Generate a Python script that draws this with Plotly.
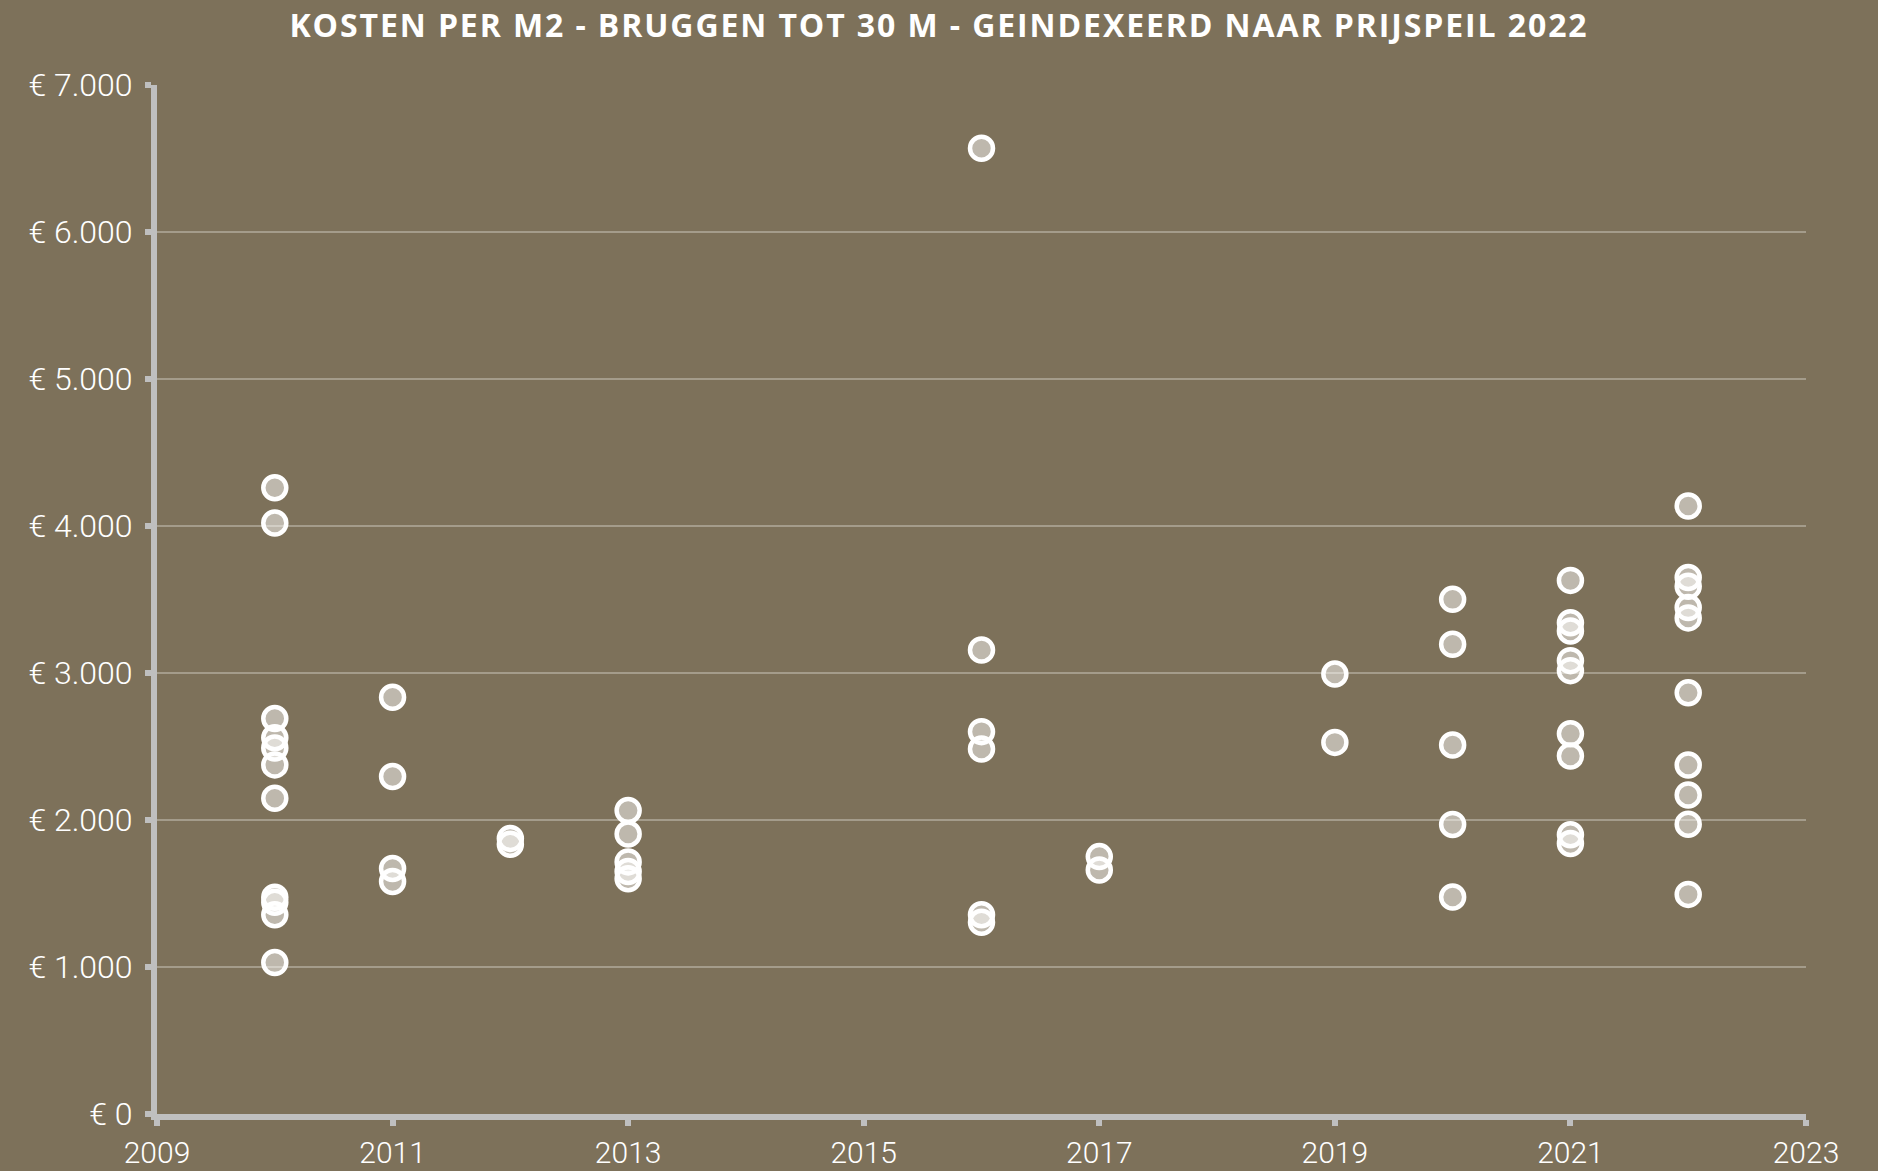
import plotly.graph_objects as go

# ---- data ----
jaar = (
    [2010] * 11 + [2011] * 4 + [2012] * 2 + [2013] * 5 + [2016] * 6
    + [2017] * 2 + [2019] * 2 + [2020] * 5 + [2021] * 9 + [2022] * 10
)
kosten = [
    4260, 4020, 2690, 2560, 2490, 2375, 2148, 1475, 1440, 1355, 1030,   # 2010
    2835, 2296, 1670, 1582,                                             # 2011
    1875, 1835,                                                         # 2012
    2065, 1905, 1715, 1650, 1600,                                       # 2013
    6570, 3156, 2601, 2483, 1355, 1305,                                 # 2016
    1751, 1660,                                                         # 2017
    2993, 2528,                                                         # 2019
    3501, 3195, 2510, 1970, 1476,                                       # 2020
    3630, 3342, 3286, 3084, 3016, 2587, 2435, 1900, 1840,               # 2021
    4136, 3650, 3590, 3445, 3375, 2866, 2374, 2170, 1971, 1494,         # 2022
]

x_ticks = [2009, 2011, 2013, 2015, 2017, 2019, 2021, 2023]
x_labels = ["2009", "2011", "2013", "2015", "2017", "2019", "2021", "2023"]
y_ticks = [0, 1000, 2000, 3000, 4000, 5000, 6000, 7000]
y_labels = ["€ 0", "€ 1.000", "€ 2.000", "€ 3.000", "€ 4.000", "€ 5.000", "€ 6.000", "€ 7.000"]

title = "KOSTEN PER M2 - BRUGGEN TOT 30 M - GEINDEXEERD NAAR PRIJSPEIL 2022"

BG = "#7d715a"
AXIS = "#bfbfbf"
FAM = "Roboto, Liberation Sans, sans-serif"

fig = go.Figure(
    go.Scatter(
        x=jaar,
        y=kosten,
        mode="markers",
        marker=dict(
            size=23,
            color="rgba(255,255,255,0.5)",
            line=dict(color="white", width=4.5),
        ),
        hoverinfo="skip",
    )
)

fig.update_layout(
    width=1878,
    height=1171,
    paper_bgcolor=BG,
    plot_bgcolor=BG,
    margin=dict(l=157, r=72, t=85, b=57),
    showlegend=False,
    title=dict(
        text=title,
        x=0.5,
        xanchor="center",
        y=1 - 26 / 1171,
        yanchor="middle",
        font=dict(family="Open Sans, sans-serif", size=32, color="white", weight="bold"),
    ),
)

fig.update_xaxes(
    range=[2009, 2023],
    tickvals=x_ticks,
    ticktext=x_labels,
    showgrid=False,
    zeroline=False,
    showline=True,
    linecolor=AXIS,
    linewidth=6,
    ticks="outside",
    ticklen=6,
    tickwidth=6,
    tickcolor=AXIS,
    tickfont=dict(family=FAM, size=30, color="white", weight=300),
    ticklabelstandoff=1,
    automargin=False,
)

fig.update_yaxes(
    range=[0, 7000],
    tickvals=y_ticks,
    ticktext=y_labels,
    showgrid=True,
    gridcolor="rgba(255,255,255,0.3)",
    gridwidth=2,
    zeroline=False,
    showline=True,
    linecolor=AXIS,
    linewidth=6,
    ticks="outside",
    ticklen=6,
    tickwidth=6,
    tickcolor=AXIS,
    tickfont=dict(family=FAM, size=32, color="white", weight=300),
    ticklabelstandoff=6,
    automargin=False,
)

post = (
    "document.body.style.margin='0';"
    "var t=document.querySelector('.gtitle');"
    "if(t){t.style.letterSpacing='1.9px';}"
)

fig.write_html("out.html", post_script=post, config={"displayModeBar": False})
